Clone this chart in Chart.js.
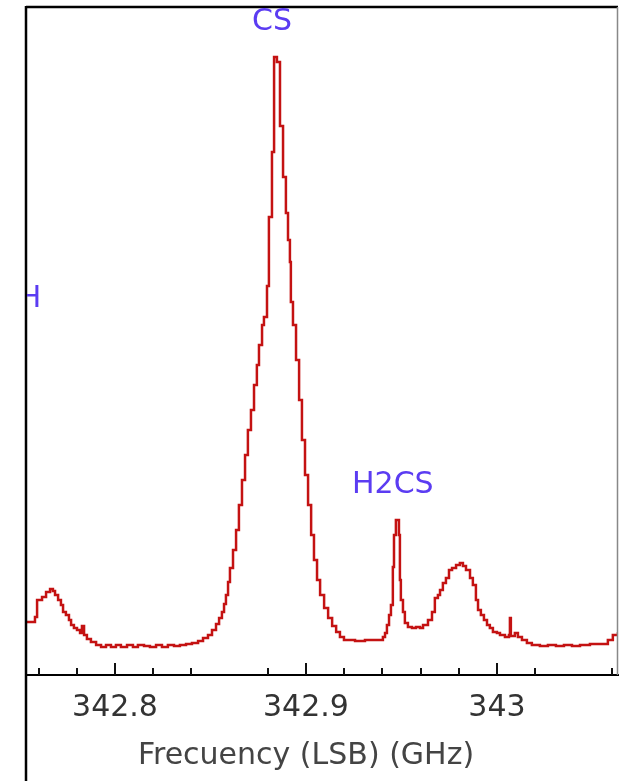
<!DOCTYPE html>
<html>
<head>
<meta charset="utf-8">
<title>CS / H2CS spectrum</title>
<script src="https://cdn.jsdelivr.net/npm/chart.js@4.4.1/dist/chart.umd.min.js"></script>
<style>
  html, body { margin: 0; padding: 0; background: #fff; }
  canvas { display: block; }
</style>
</head>
<body>
<canvas id="spectrumChart" width="619" height="781"></canvas>
<script>
// ========================
// Espectro (LSB)
// ========================

// frecuencia (GHz) donde el espectro cambia de nivel
const freqs = [
  342.7534, 342.7581, 342.7592, 342.7618, 342.7639, 342.7660, 342.7675, 342.7686, 342.7702, 342.7717,
  342.7728, 342.7743, 342.7759, 342.7770, 342.7785, 342.7801, 342.7817, 342.7827, 342.7838, 342.7853,
  342.7874, 342.7901, 342.7927, 342.7953, 342.7979, 342.8005, 342.8031, 342.8063, 342.8094, 342.8120,
  342.8152, 342.8183, 342.8215, 342.8246, 342.8277, 342.8309, 342.8340, 342.8372, 342.8403, 342.8435,
  342.8461, 342.8487, 342.8508, 342.8529, 342.8545, 342.8560, 342.8571, 342.8581, 342.8592, 342.8602,
  342.8618, 342.8634, 342.8649, 342.8665, 342.8681, 342.8696, 342.8712, 342.8728, 342.8743, 342.8754,
  342.8770, 342.8780, 342.8796, 342.8806, 342.8822, 342.8833, 342.8848, 342.8864, 342.8880, 342.8895,
  342.8906, 342.8916, 342.8921, 342.8932, 342.8948, 342.8964, 342.8979, 342.8995, 342.9011, 342.9027,
  342.9042, 342.9058, 342.9074, 342.9095, 342.9116, 342.9137, 342.9158, 342.9178, 342.9199, 342.9257,
  342.9309, 342.9361, 342.9403, 342.9414, 342.9424, 342.9435, 342.9445, 342.9455, 342.9461, 342.9471,
  342.9487, 342.9492, 342.9497, 342.9508, 342.9518, 342.9534, 342.9555, 342.9576, 342.9597, 342.9613,
  342.9639, 342.9660, 342.9675, 342.9691, 342.9702, 342.9717, 342.9733, 342.9749, 342.9765, 342.9786,
  342.9806, 342.9822, 342.9838, 342.9859, 342.9874, 342.9890, 342.9901, 342.9916, 342.9932, 342.9948,
  342.9963, 342.9979, 343.0000, 343.0016, 343.0042, 343.0063, 343.0068, 343.0073, 343.0094, 343.0110,
  343.0131, 343.0157, 343.0183, 343.0225, 343.0267, 343.0309, 343.0351, 343.0393, 343.0435, 343.0487,
  343.0539, 343.0581, 343.0607, 343.0634
];

// intensidad (unidades arbitrarias)
const intensity = [
  0.23, 0.28, 0.45, 0.48, 0.53, 0.56, 0.54, 0.50, 0.45, 0.40,
  0.33, 0.30, 0.25, 0.20, 0.17, 0.15, 0.12, 0.19, 0.10, 0.06,
  0.03, 0.00, -0.02, 0.00, -0.02, 0.00, -0.02, 0.00, -0.02, 0.00,
  -0.01, -0.02, 0.00, -0.02, 0.00, -0.01, 0.00, 0.01, 0.02, 0.04,
  0.07, 0.10, 0.15, 0.21, 0.27, 0.33, 0.41, 0.50, 0.63, 0.77,
  0.95, 1.15, 1.40, 1.65, 1.90, 2.15, 2.35, 2.60, 2.80, 3.00,
  3.20, 3.28, 3.59, 4.28, 4.93, 5.88, 5.83, 5.19, 4.68, 4.32,
  4.05, 3.83, 3.43, 3.20, 2.85, 2.45, 2.05, 1.70, 1.40, 1.10,
  0.85, 0.65, 0.50, 0.37, 0.27, 0.19, 0.13, 0.08, 0.05, 0.04,
  0.05, 0.05, 0.08, 0.12, 0.20, 0.30, 0.40, 0.78, 1.10, 1.25,
  1.10, 0.65, 0.45, 0.33, 0.22, 0.18, 0.17, 0.18, 0.17, 0.20,
  0.25, 0.33, 0.47, 0.50, 0.55, 0.62, 0.67, 0.75, 0.77, 0.80,
  0.82, 0.79, 0.75, 0.67, 0.60, 0.45, 0.35, 0.30, 0.25, 0.20,
  0.17, 0.13, 0.12, 0.10, 0.08, 0.10, 0.27, 0.09, 0.12, 0.08,
  0.05, 0.02, 0.00, -0.01, 0.00, -0.01, 0.00, -0.01, 0.00, 0.01,
  0.01, 0.05, 0.10, 0.13
];

// marcas del eje x
const tickValues = [342.76, 342.78, 342.8, 342.82, 342.84, 342.88, 342.9, 342.92, 342.94, 342.96, 342.98, 343, 343.02, 343.06];
const majorTicks = [342.8, 342.9, 343];
const axisTitle = 'Frecuency (LSB) (GHz)';

// lineas identificadas
const lineNames = ['CS', 'H2CS', 'H'];
const lineFreqs = [342.8822, 342.9455, 342.7555];
const lineLevels = [6.23, 1.60, 3.46];

const isMajor = v => majorTicks.some(m => Math.abs(m - v) < 1e-6);

// marco, marcas, titulo del eje y etiquetas de las lineas
const framePlugin = {
    id: 'frame',
    afterDraw(chart) {
        const ctx = chart.ctx;
        const { left, top, right, bottom } = chart.chartArea;
        const xs = chart.scales.x;
        const ys = chart.scales.y;
        ctx.save();

        // ticks hacia adentro
        ctx.strokeStyle = '#111';
        ctx.lineWidth = 2;
        tickValues.forEach(v => {
            const px = Math.round(xs.getPixelForValue(v));
            const len = isMajor(v) ? 12 : 7;
            ctx.beginPath();
            ctx.moveTo(px, bottom);
            ctx.lineTo(px, bottom - len);
            ctx.stroke();
        });

        // borde
        ctx.strokeStyle = '#000';
        ctx.lineWidth = 2.5;
        ctx.beginPath();
        ctx.moveTo(left, top);
        ctx.lineTo(right, top);
        ctx.moveTo(left, top - 1);
        ctx.lineTo(left, chart.height);
        ctx.stroke();
        ctx.strokeStyle = '#888';
        ctx.lineWidth = 1.5;
        ctx.beginPath();
        ctx.moveTo(right - 0.5, top);
        ctx.lineTo(right - 0.5, bottom);
        ctx.stroke();

        // titulo del eje x (algo corrido a la izquierda, como el original)
        ctx.fillStyle = '#444';
        ctx.font = '30px "DejaVu Sans"';
        ctx.textAlign = 'center';
        ctx.textBaseline = 'middle';
        ctx.fillText(axisTitle, (left + right) / 2 - 16, 756);

        // nombres de las lineas
        ctx.beginPath();
        ctx.rect(left + 1, top + 1, right - left, bottom - top);
        ctx.clip();
        ctx.fillStyle = '#5b3cf2';
        lineNames.forEach((name, i) => {
            ctx.fillText(name, xs.getPixelForValue(lineFreqs[i]), ys.getPixelForValue(lineLevels[i]));
        });
        ctx.restore();
    }
};

const spectrumData = {
    datasets: [{
        label: 'Espectro',
        data: freqs.map((f, i) => ({ x: f, y: intensity[i] })),
        borderColor: '#c41212',
        borderWidth: 2.5,
        stepped: true,
        pointRadius: 0,
        fill: false
    }]
};

const configSpectrum = {
    type: 'line',
    data: spectrumData,
    plugins: [framePlugin],
    options: {
        responsive: false,
        animation: false,
        layout: { autoPadding: false, padding: { left: 26, top: 7, right: 1, bottom: 0 } },
        plugins: {
            legend: { display: false },
            tooltip: { enabled: false }
        },
        scales: {
            x: {
                type: 'linear',
                min: 342.7534,
                max: 343.0634,
                afterBuildTicks: scale => {
                    scale.ticks = tickValues.map(v => ({ value: v }));
                },
                afterFit: scale => {
                    scale.height = 106;
                    scale.paddingLeft = 0;
                    scale.paddingRight = 0;
                },
                grid: { display: false, drawTicks: false },
                border: { display: true, color: '#000', width: 2 },
                ticks: {
                    autoSkip: false,
                    maxRotation: 0,
                    padding: 15,
                    color: '#333',
                    font: { family: 'DejaVu Sans', size: 30 },
                    callback: v => isMajor(v) ? String(Number(v.toFixed(1))) : ''
                },
                title: { display: false }
            },
            y: {
                display: false,
                min: -0.30,
                max: 6.38
            }
        }
    }
};

window.addEventListener('DOMContentLoaded', () => {
    const spectrumCanvas = document.getElementById('spectrumChart').getContext('2d');
    new Chart(spectrumCanvas, configSpectrum);
});
</script>
</body>
</html>
